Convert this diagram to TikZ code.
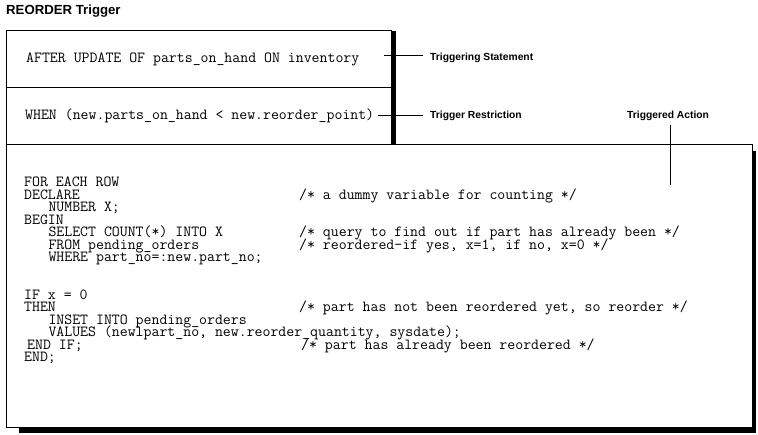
\documentclass[tikz,border=0pt]{standalone}
\usepackage{fontspec}
\setsansfont{Liberation Sans}
\newcommand\codeind{\hspace*{24.3pt}}
\tikzset{
  code/.style={anchor=base west, inner sep=0pt, text height=8pt, text depth=2pt, font=\fontsize{15.4}{12.5}\selectfont\ttfamily},
  lab/.style={anchor=base west, inner sep=0pt, font=\fontsize{10.3}{12}\selectfont\sffamily\bfseries},
  titletext/.style={anchor=base west, inner sep=0pt, font=\fontsize{13.2}{14}\selectfont\sffamily\bfseries},
  frame/.style={draw=black, line width=1pt},
  shade/.style={fill=black, draw=none},
  conn/.style={draw=black, line width=1pt}
}
\begin{document}
\begin{tikzpicture}[x=1pt,y=-1pt]
\useasboundingbox (0,0) rectangle (758,434);
\node[titletext] (title) at (6,14) {REORDER Trigger};
% top boxes
\draw[frame] (6.5,30.5) rectangle (391.5,144.3);
\draw[frame] (6.5,87.3) -- (391.5,87.3);
\fill[shade] (391.3,31) rectangle (395.7,144.3);
% action box
\draw[frame] (6.5,144.3) rectangle (752.3,427.5);
\fill[shade] (752,150.7) rectangle (756,433);
\fill[shade] (19,428) rectangle (756,433);
% box texts
\node[code] (stmt) at (26,62.5) {AFTER UPDATE OF parts\_on\_hand ON inventory};
\node[code] (restr) at (25,119) {WHEN (new.parts\_on\_hand < new.reorder\_point)};
% labels
\node[lab] (lstmt) at (430,60.5) {Triggering Statement};
\node[lab] (lrestr) at (430,118.5) {Trigger Restriction};
\node[lab] (lact) at (627,118.5) {Triggered Action};
\coordinate (s1) at (384,55);
\coordinate (s2) at (423,55);
\coordinate (r1) at (378,115);
\coordinate (r2) at (423,115);
\coordinate (a1) at (670.7,125);
\coordinate (a2) at (670.7,185);
\draw[conn] (s1) -- (s2);
\draw[conn] (r1) -- (r2);
\draw[conn] (a1) -- (a2);
% code
\node[code] (c1) at (24,186.5) {FOR EACH ROW};
\node[code] (c2) at (24,199) {DECLARE};
\node[code] (c3) at (24,211.5) {\codeind NUMBER X;};
\node[code] (c4) at (24,224) {BEGIN};
\node[code] (c5) at (24,236.5) {\codeind SELECT COUNT(*) INTO X};
\node[code] (c6) at (24,249) {\codeind FROM pending\_orders};
\node[code] (c7) at (24,261.5) {\codeind WHERE part\_no=:new.part\_no;};
\node[code] (c10) at (24,299) {IF x = 0};
\node[code] (c11) at (24,311.5) {THEN};
\node[code] (c12) at (24,324) {\codeind INSET INTO pending\_orders};
\node[code] (c13) at (24,336.5) {\codeind VALUES (newlpart\_no, new.reorder\_quantity, sysdate);};
\node[code] (c14) at (27,349) {END IF;};
\node[code] (c15) at (24,361.5) {END;};
% comments
\node[code] (m2) at (299,199) {/* a dummy variable for counting */};
\node[code] (m5) at (299,236.5) {/* query to find out if part has already been */};
\node[code] (m6) at (299,249) {/* reordered—if yes, x=1, if no, x=0 */};
\node[code] (m11) at (299,311.5) {/* part has not been reordered yet, so reorder */};
\node[code] (m14) at (301,349) {/* part has already been reordered */};
\end{tikzpicture}
\end{document}
